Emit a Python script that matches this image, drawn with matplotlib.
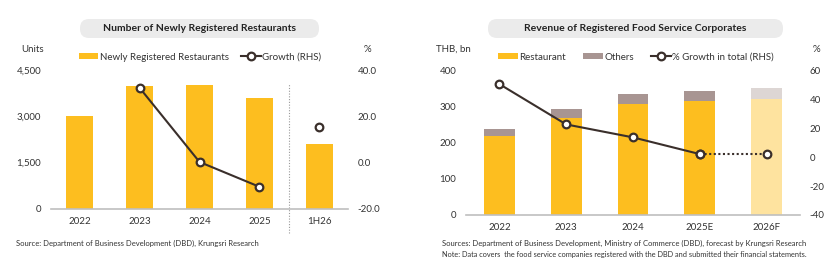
import matplotlib
matplotlib.use("Agg")
import matplotlib.pyplot as plt
from matplotlib.patches import FancyBboxPatch, Patch
from matplotlib.lines import Line2D
import numpy as np

plt.rcParams['font.family'] = ['Lato', 'DejaVu Sans']
plt.rcParams['axes.unicode_minus'] = False

# ---- data: left chart
left_years = ['2022', '2023', '2024', '2025', '1H26']
new_restaurants = [3020, 3980, 4010, 3600, 2100]
growth_new = [np.nan, 32.3, 0.3, -10.4, np.nan]
growth_1h26 = [np.nan, np.nan, np.nan, np.nan, 15.2]

# ---- data: right chart
right_years = ['2022', '2023', '2024', '2025E', '2026F']
rev_restaurant = [219, 270, 308, 316, 323]
rev_others = [20, 24, 28, 29, 30]
growth_total = [50.9, 22.9, 13.9, 2.3, 2.3]

YELLOW = '#fdbe1f'
YELLOW_LT = '#fee39f'
OTHERS = '#a89592'
OTHERS_LT = '#ddd6d4'
LINE = '#3a2f2b'
TXT = '#333333'
AXIS = '#bfbfbf'

W, H = 840, 273
fig = plt.figure(figsize=(W / 100, H / 100), dpi=100)


def px_axes(x0, x1, ytop, ybot):
    return fig.add_axes([x0 / W, (H - ybot) / H, (x1 - x0) / W, (ybot - ytop) / H])


def style(ax, ax2):
    for a in (ax, ax2):
        for s in ('top', 'right', 'left'):
            a.spines[s].set_visible(False)
        a.tick_params(length=0, labelsize=7, colors=TXT)
    ax.spines['bottom'].set_color(AXIS)
    ax.spines['bottom'].set_linewidth(1.2)
    ax2.spines['bottom'].set_visible(False)
    ax.tick_params(axis='y', pad=7)
    ax.tick_params(axis='x', pad=6)
    ax2.tick_params(axis='y', pad=7)


def title_pill(x0, x1, text):
    y0, y1 = H - 38, H - 19
    p = FancyBboxPatch((x0 + 9, y0), x1 - x0 - 18, y1 - y0,
                       boxstyle='round,pad=0,rounding_size=9',
                       transform=None, facecolor='#ebebeb', edgecolor='none')
    fig.patches.append(p)
    fig.text((x0 + x1) / 2 / W, (H - 28.5) / H, text, ha='center', va='center',
             fontsize=7.5, fontweight='bold', color='#222222')


marker_kw = dict(marker='o', markersize=5.5, markerfacecolor='white',
                 markeredgecolor=LINE, markeredgewidth=1.6)

# ================= left chart
ax = px_axes(51, 348, 70, 209)
ax2 = ax.twinx()
xl = np.arange(len(left_years))
ax.bar(xl, new_restaurants, width=0.45, color=YELLOW, zorder=2)
ax.set_xlim(-0.48, len(left_years) - 0.52)
ax.set_ylim(0, 4500)
ax.set_yticks([0, 1500, 3000, 4500])
ax.set_yticklabels(['0', '1,500', '3,000', '4,500'])
ax.set_xticks(xl)
ax.set_xticklabels(left_years)
ax2.plot(xl, growth_new, color=LINE, lw=1.5, **marker_kw)
ax2.plot(xl, growth_1h26, ls='none', **marker_kw)
ax2.set_ylim(-20, 40)
ax2.set_yticks([-20, 0, 20, 40])
ax2.set_yticklabels(['-20.0', '0.0', '20.0', '40.0'])
style(ax, ax2)
ax.axvline(3.5, ymin=-0.17, ymax=0.91, color='#999999', lw=0.8, ls=(0, (1, 1.5)),
           clip_on=False)

fig.text(21 / W, (H - 49) / H, 'Units', fontsize=7, color=TXT, va='center')
fig.text(364 / W, (H - 49) / H, '%', fontsize=7, color=TXT, va='center')
h1 = [Patch(facecolor=YELLOW, edgecolor='none'),
      Line2D([], [], color=LINE, lw=1.5, **marker_kw)]
fig.legend(h1, ['Newly Registered Restaurants', 'Growth (RHS)'],
           loc='center', bbox_to_anchor=(200 / W, (H - 57) / H), ncol=2,
           frameon=False, fontsize=7, handlelength=2.0, handleheight=0.6,
           handletextpad=0.15, columnspacing=1.3, labelcolor=TXT)
title_pill(71, 328, 'Number of Newly Registered Restaurants')
fig.text(16 / W, (H - 243) / H,
         'Source: Department of Business Development (DBD), Krungsri Research',
         fontsize=5.5, color=TXT, va='center')

# ================= right chart
bx = px_axes(466, 800, 71, 215)
bx2 = bx.twinx()
xr = np.arange(len(right_years))
rest_cols = [YELLOW] * 4 + [YELLOW_LT]
oth_cols = [OTHERS] * 4 + [OTHERS_LT]
bx.bar(xr, rev_restaurant, width=0.46, color=rest_cols, zorder=2)
bx.bar(xr, rev_others, width=0.46, bottom=rev_restaurant, color=oth_cols, zorder=2)
bx.set_xlim(-0.5, len(right_years) - 0.5)
bx.set_ylim(0, 400)
bx.set_yticks([0, 100, 200, 300, 400])
bx.set_xticks(xr)
bx.set_xticklabels(right_years)
bx2.plot(xr[:4], growth_total[:4], color=LINE, lw=1.5, **marker_kw)
bx2.plot(xr[3:], growth_total[3:], color=LINE, lw=1.5, ls=(0, (1, 1.2)), **marker_kw)
bx2.set_ylim(-40, 60)
bx2.set_yticks([-40, -20, 0, 20, 40, 60])
style(bx, bx2)

fig.text(436 / W, (H - 49) / H, 'THB, bn', fontsize=7, color=TXT, va='center')
fig.text(813 / W, (H - 49) / H, '%', fontsize=7, color=TXT, va='center')
h2 = [Patch(facecolor=YELLOW, edgecolor='none'),
      Patch(facecolor=OTHERS, edgecolor='none'),
      Line2D([], [], color=LINE, lw=1.5, **marker_kw)]
fig.legend(h2, ['Restaurant', 'Others', '% Growth in total (RHS)'],
           loc='center', bbox_to_anchor=(636 / W, (H - 57) / H), ncol=3,
           frameon=False, fontsize=7, handlelength=2.0, handleheight=0.6,
           handletextpad=0.15, columnspacing=1.8, labelcolor=TXT)
title_pill(479, 792, 'Revenue of Registered Food Service Corporates')
fig.text(442 / W, (H - 243) / H,
         'Sources: Department of Business Development, Ministry of Commerce (DBD), '
         'forecast by Krungsri Research',
         fontsize=5.5, color=TXT, va='center')
fig.text(442 / W, (H - 254) / H,
         'Note: Data covers  the food service companies registered with the DBD '
         'and submitted their financial statements.',
         fontsize=5.3, color=TXT, va='center')

fig.savefig('out.png', dpi=100, facecolor='white')
